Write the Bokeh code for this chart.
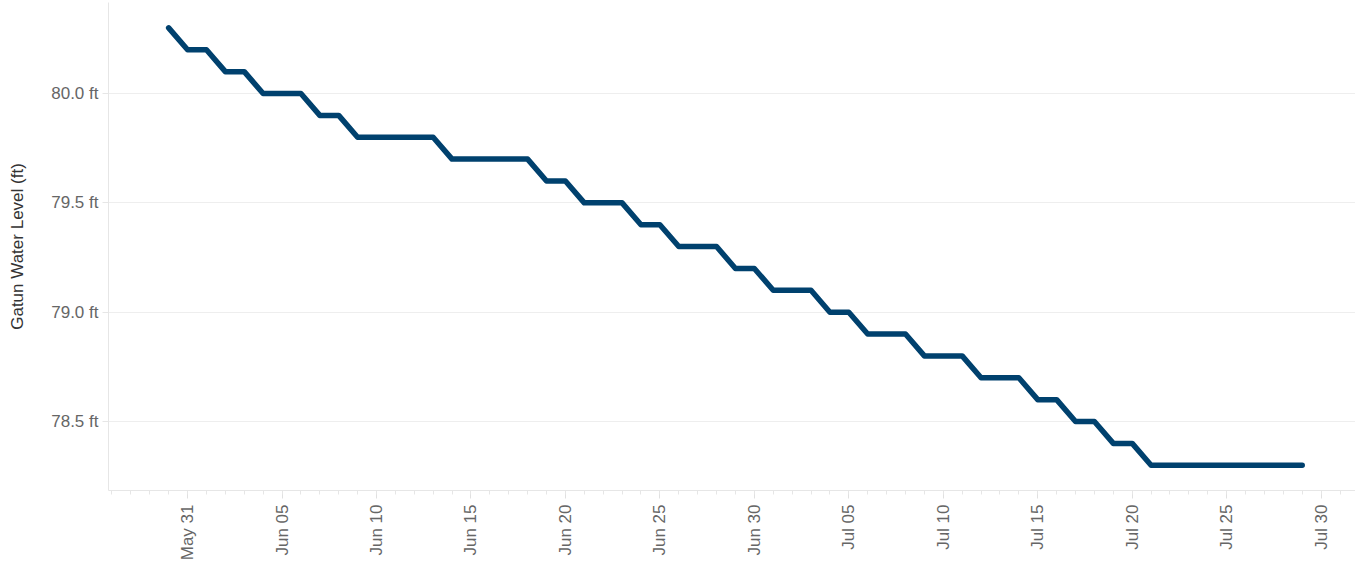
import math
import pandas as pd
from bokeh.plotting import figure
from bokeh.models import Range1d, FixedTicker, DatetimeTickFormatter, CustomJSTickFormatter
from bokeh.embed import file_html
from bokeh.resources import INLINE

# ---- data ----
dates = pd.date_range("2024-05-30", "2024-07-29", freq="D")
levels = [
    80.3, 80.2, 80.2, 80.1, 80.1, 80.0, 80.0, 80.0, 79.9, 79.9,
    79.8, 79.8, 79.8, 79.8, 79.8,
    79.7, 79.7, 79.7, 79.7, 79.7,
    79.6, 79.6,
    79.5, 79.5, 79.5,
    79.4, 79.4,
    79.3, 79.3, 79.3,
    79.2, 79.2,
    79.1, 79.1, 79.1,
    79.0, 79.0,
    78.9, 78.9, 78.9,
    78.8, 78.8, 78.8,
    78.7, 78.7, 78.7,
    78.6, 78.6,
    78.5, 78.5,
    78.4, 78.4,
    78.3, 78.3, 78.3, 78.3, 78.3, 78.3, 78.3, 78.3, 78.3,
]
x_tick_dates = [
    "2024-05-31", "2024-06-05", "2024-06-10", "2024-06-15", "2024-06-20",
    "2024-06-25", "2024-06-30", "2024-07-05", "2024-07-10", "2024-07-15",
    "2024-07-20", "2024-07-25", "2024-07-30",
]
y_ticks = [78.5, 79.0, 79.5, 80.0]
y_label = "Gatun Water Level (ft)"

DAY = 86400000.0


def ms(d):
    return pd.Timestamp(d).value / 1e6


major_x = [ms(d) for d in x_tick_dates]
minor_x = [ms(d) for d in pd.date_range("2024-05-27", "2024-08-01", freq="D")]

x0 = ms("2024-05-31")
x_range = Range1d(x0 - 4.184 * DAY, x0 + 61.82 * DAY)
y_range = Range1d(78.1845, 80.4162)

FONT = "Liberation Sans"

p = figure(
    width=1355, height=565,
    x_axis_type="datetime",
    x_range=x_range, y_range=y_range,
    output_backend="svg", toolbar_location=None,
    min_border_left=108, min_border_right=0,
    min_border_top=2, min_border_bottom=75,
)
p.outline_line_color = None
p.background_fill_color = "white"
p.border_fill_color = "white"

p.xgrid.grid_line_color = None
p.ygrid.grid_line_color = "#eeeeee"
p.ygrid.grid_line_width = 1

p.line(dates, levels, line_width=5.5, line_color="#00416e",
       line_cap="round", line_join="round")

# x axis
xa = p.xaxis[0]
xa.ticker = FixedTicker(ticks=major_x, minor_ticks=minor_x)
xa.formatter = DatetimeTickFormatter(days="%b %d", months="%b %d", years="%b %d",
                                     hours="%b %d", context=None)
xa.major_label_orientation = math.pi / 2
xa.major_tick_in = 0
xa.major_tick_out = 8
xa.minor_tick_in = 0
xa.minor_tick_out = 4
xa.major_tick_line_color = "#e0e0e0"
xa.minor_tick_line_color = "#e6e6e6"
xa.axis_line_color = "#e6e6e6"
xa.major_label_text_font = FONT
xa.major_label_text_font_size = "17px"
xa.major_label_text_color = "#666666"
xa.major_label_standoff = 6

# y axis
ya = p.yaxis[0]
ya.ticker = FixedTicker(ticks=y_ticks)
ya.formatter = CustomJSTickFormatter(code="return tick.toFixed(1) + ' ft';")
ya.minor_tick_line_color = None
ya.major_tick_in = 0
ya.major_tick_out = 6
ya.major_tick_line_color = "#e6e6e6"
ya.axis_line_color = "#e6e6e6"
ya.major_label_text_font = FONT
ya.major_label_text_font_size = "17px"
ya.major_label_text_color = "#666666"
ya.major_label_standoff = 4
ya.axis_label = y_label
ya.axis_label_text_font = FONT
ya.axis_label_text_font_size = "17px"
ya.axis_label_text_font_style = "normal"
ya.axis_label_text_color = "#333333"
ya.axis_label_standoff = 21

open("out.html", "w").write(file_html(p, INLINE))
